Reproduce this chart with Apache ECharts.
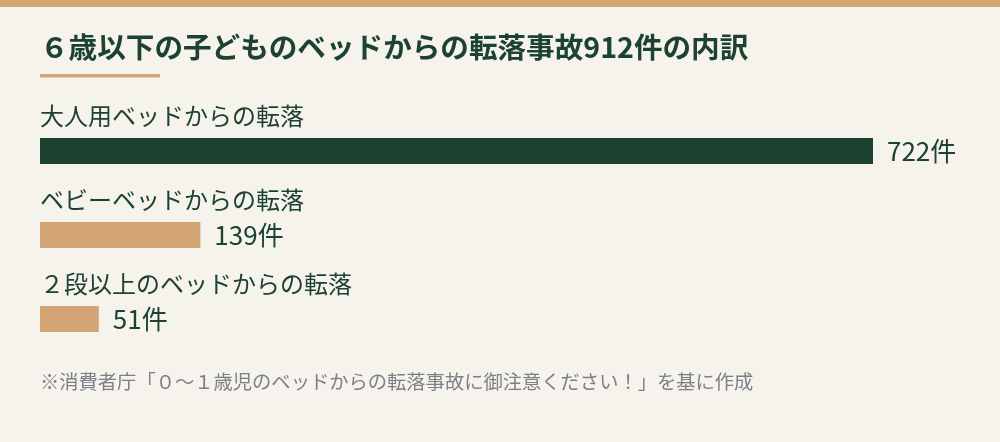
<!DOCTYPE html>
<html>
<head>
<meta charset="utf-8">
<script src="https://cdn.jsdelivr.net/npm/echarts@6/dist/echarts.min.js"></script>
<style>
  html, body { margin: 0; padding: 0; background: #f6f2ec; }
  #chart { width: 1000px; height: 442px; }
</style>
</head>
<body>
<div id="chart"></div>
<script>
const categories = ['大人用ベッドからの転落', 'ベビーベッドからの転落', '２段以上のベッドからの転落'];
const counts = [722, 139, 51];
const barColors = ['#1c4230', '#d4a574', '#d4a574'];

const FONT = '"Noto Sans CJK JP", "Noto Sans", sans-serif';
const GREEN = '#1c4230';
const TAN = '#d4a574';

const chart = echarts.init(document.getElementById('chart'));

chart.setOption({
  animation: false,
  backgroundColor: '#f6f2ec',
  title: {
    text: '６歳以下の子どものベッドからの転落事故912件の内訳',
    left: 35,
    top: 27,
    textStyle: { fontFamily: FONT, fontSize: 28.6, fontWeight: 'bold', color: GREEN, lineHeight: 30 }
  },
  graphic: [
    { type: 'rect', left: 0, top: 0, shape: { width: 1000, height: 7 }, style: { fill: TAN } },
    { type: 'rect', left: 40, top: 74, shape: { width: 120, height: 3.5 }, style: { fill: TAN } },
    {
      type: 'text', left: 40, top: 372,
      style: {
        text: '※消費者庁「０～１歳児のベッドからの転落事故に御注意ください！」を基に作成',
        font: '19.3px ' + FONT, fill: '#7b8087'
      }
    }
  ],
  grid: { left: 40, right: 37, top: 109, bottom: 81 },
  xAxis: { type: 'value', min: 0, max: 800, show: false },
  yAxis: {
    type: 'category', data: categories, inverse: true,
    axisLine: { show: false }, axisTick: { show: false }, axisLabel: { show: false }
  },
  series: [
    {
      type: 'bar',
      barWidth: 26,
      data: counts.map((v, i) => ({ value: v, itemStyle: { color: barColors[i] } })),
      label: {
        show: true, position: 'right', distance: 14,
        formatter: p => p.value + '件',
        fontFamily: FONT, fontSize: 26, color: GREEN
      }
    },
    {
      type: 'bar',
      barWidth: 26,
      barGap: '-100%',
      silent: true,
      data: counts,
      itemStyle: { color: 'rgba(0,0,0,0)' },
      label: {
        show: true, position: [0, -22], align: 'left', verticalAlign: 'middle',
        formatter: p => p.name,
        fontFamily: FONT, fontSize: 24, color: GREEN
      }
    }
  ]
});
</script>
</body>
</html>
